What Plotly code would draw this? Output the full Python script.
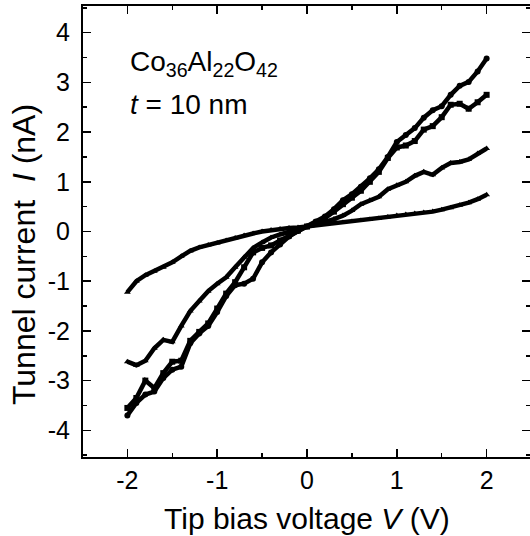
import plotly.graph_objects as go

# Tip bias voltage (V)
voltage = [-2.0, -1.9, -1.8, -1.7, -1.6, -1.5, -1.4, -1.3, -1.2, -1.1, -1.0,
           -0.9, -0.8, -0.7, -0.6, -0.5, -0.4, -0.3, -0.2, -0.1, 0.0,
           0.1, 0.2, 0.3, 0.4, 0.5, 0.6, 0.7, 0.8, 0.9, 1.0,
           1.1, 1.2, 1.3, 1.4, 1.5, 1.6, 1.7, 1.8, 1.9, 2.0]

# Tunnel current (nA), four measurements
current_a = [-1.22, -1.00, -0.88, -0.80, -0.72, -0.62, -0.50, -0.39, -0.32, -0.27, -0.23,
             -0.18, -0.13, -0.08, -0.04, 0.00, 0.03, 0.05, 0.07, 0.08, 0.10,
             0.12, 0.14, 0.16, 0.18, 0.20, 0.22, 0.24, 0.26, 0.29, 0.32,
             0.34, 0.36, 0.38, 0.40, 0.44, 0.48, 0.53, 0.58, 0.65, 0.74]

current_b = [-2.62, -2.69, -2.60, -2.35, -2.18, -2.22, -1.90, -1.60, -1.40, -1.20, -1.05,
             -0.92, -0.72, -0.52, -0.33, -0.22, -0.12, -0.06, 0.00, 0.05, 0.10,
             0.14, 0.19, 0.25, 0.32, 0.42, 0.55, 0.63, 0.70, 0.85, 0.93,
             1.00, 1.12, 1.20, 1.14, 1.28, 1.38, 1.40, 1.45, 1.57, 1.67]

current_c = [-3.55, -3.35, -3.00, -3.15, -2.85, -2.62, -2.60, -2.20, -2.02, -1.85, -1.55,
             -1.25, -1.02, -0.72, -0.42, -0.33, -0.28, -0.18, -0.08, 0.02, 0.10,
             0.18, 0.27, 0.40, 0.55, 0.68, 0.82, 1.00, 1.20, 1.48, 1.69,
             1.73, 1.82, 2.05, 2.12, 2.30, 2.55, 2.57, 2.47, 2.60, 2.75]

current_d = [-3.70, -3.45, -3.28, -3.22, -2.95, -2.78, -2.72, -2.25, -2.05, -1.90, -1.62,
             -1.30, -1.08, -1.05, -0.95, -0.62, -0.42, -0.26, -0.10, 0.01, 0.10,
             0.20, 0.30, 0.45, 0.63, 0.75, 0.90, 1.07, 1.25, 1.50, 1.80,
             1.94, 2.08, 2.29, 2.44, 2.52, 2.75, 2.93, 3.01, 3.22, 3.48]

series = [current_a, current_b, current_c, current_d]
symbols = ["triangle-up", "triangle-up", "square", "circle"]

x_tickvals = [-2, -1, 0, 1, 2]
x_ticktext = ["-2", "-1", "0", "1", "2"]
y_tickvals = [-4, -3, -2, -1, 0, 1, 2, 3, 4]
y_ticktext = ["-4", "-3", "-2", "-1", "0", "1", "2", "3", "4"]

FONT = "Arial, Liberation Sans, Helvetica, sans-serif"

fig = go.Figure()
for vals, sym in zip(series, symbols):
    fig.add_trace(go.Scatter(
        x=voltage, y=vals, mode="lines+markers",
        line=dict(color="black", width=4.5),
        marker=dict(color="black", size=6, symbol=sym),
        showlegend=False, hoverinfo="skip"))

axis_common = dict(
    showline=True, linecolor="black", linewidth=2, mirror="ticks",
    ticks="inside", ticklen=8, tickwidth=1.5, tickcolor="black",
    showgrid=False, zeroline=False, automargin=False,
    tickfont=dict(family=FONT, size=25, color="black"),
    minor=dict(ticks="inside", ticklen=4, tickwidth=1.5, tickcolor="black", dtick=0.5, showgrid=False),
)

fig.update_xaxes(range=[-2.494, 2.483], tickmode="array", tickvals=x_tickvals,
                 ticktext=x_ticktext, ticklabelstandoff=0, **axis_common)
fig.update_yaxes(range=[-4.537, 4.537], tickmode="array", tickvals=y_tickvals,
                 ticktext=y_ticktext, ticklabelstandoff=6, **axis_common)

fig.add_annotation(text="Tip bias voltage <i>V</i> (V)", xref="paper", yref="paper",
                   x=0.5, y=-0.136, xanchor="center", yanchor="middle", showarrow=False,
                   font=dict(family=FONT, size=30, color="black"))
fig.add_annotation(text="Tunnel current\u00a0\u00a0<i>I</i> (nA)", xref="paper", yref="paper",
                   x=-0.132, y=0.45, xanchor="center", yanchor="middle", textangle=-90,
                   showarrow=False, font=dict(family=FONT, size=32, color="black"))
fig.add_annotation(text="Co<sub>36</sub>Al<sub>22</sub>O<sub>42</sub>", xref="paper", yref="paper",
                   x=0.1007, y=0.872, xanchor="left", yanchor="middle", showarrow=False,
                   font=dict(family=FONT, size=28, color="black"))
fig.add_annotation(text="<i>t</i> = 10 nm", xref="paper", yref="paper",
                   x=0.1007, y=0.782, xanchor="left", yanchor="middle", showarrow=False,
                   font=dict(family=FONT, size=28, color="black"))

fig.update_layout(width=530, height=536, margin=dict(l=83, r=0, t=6, b=79, autoexpand=False),
                  paper_bgcolor="white", plot_bgcolor="white")

fig.write_html("out.html", config={"displayModeBar": False, "staticPlot": True},
               post_script="document.body.style.margin='0px';document.body.style.overflow='hidden';")
